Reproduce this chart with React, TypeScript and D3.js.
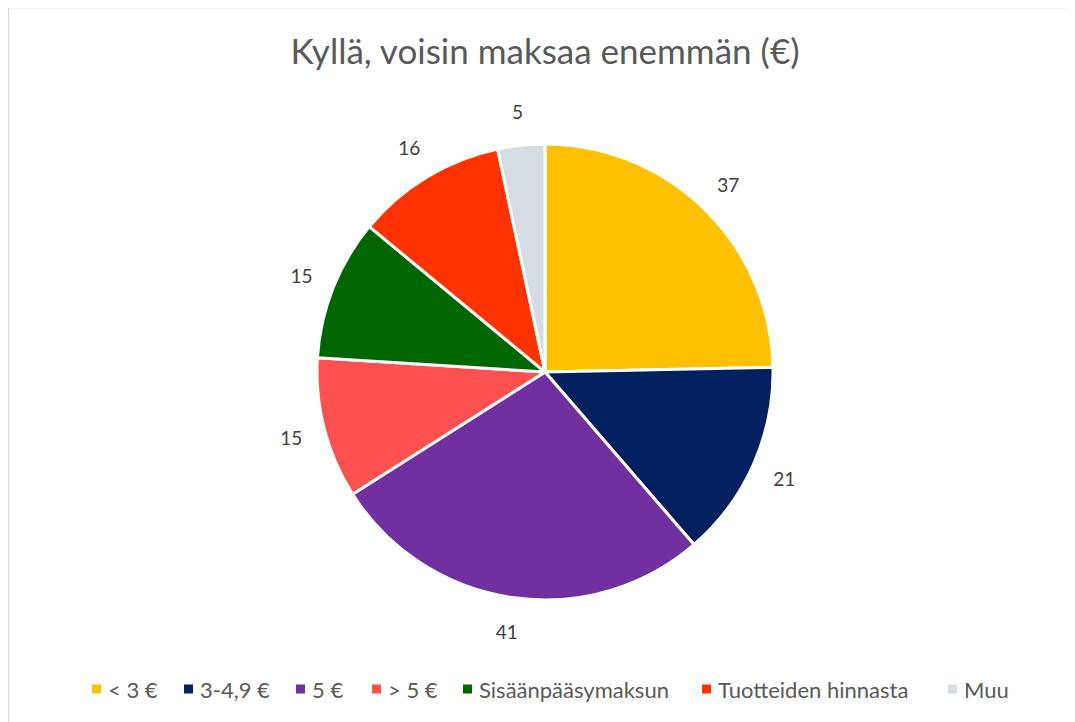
import React, { useEffect, useRef } from "react";
import * as d3 from "d3";

const categories = ["< 3 €", "3-4,9 €", "5 €", "> 5 €", "Sisäänpääsymaksun", "Tuotteiden hinnasta", "Muu"];
const values = [37, 21, 41, 15, 15, 16, 5];
const colors = ["#FFC000", "#002060", "#7030A0", "#FF5050", "#006600", "#FF3300", "#D6DCE4"];
const title = "Kyllä, voisin maksaa enemmän (€)";

const App = () => {
  const ref = useRef<SVGSVGElement | null>(null);

  useEffect(() => {
    const width = 1067;
    const height = 714;
    const cx = 537;
    const cy = 364;
    const radius = 228;
    const font = "Lato, 'Open Sans', sans-serif";
    const textColor = "#595959";

    const svg = d3.select(ref.current);
    svg.selectAll("*").remove();

    // chart frame (only top/left visible in the window)
    svg
      .append("rect")
      .attr("x", 0.5)
      .attr("y", -0.5)
      .attr("width", width + 20)
      .attr("height", height + 20)
      .attr("fill", "#fff")
      .attr("stroke", "#d9d9d9")
      .attr("stroke-width", 1.5);

    svg
      .append("text")
      .attr("x", 537)
      .attr("y", 56)
      .attr("text-anchor", "middle")
      .attr("font-family", font)
      .attr("font-size", 35)
      .attr("fill", textColor)
      .text(title);

    const data = categories.map((c, i) => ({ name: c, value: values[i], color: colors[i] }));

    const pie = d3
      .pie<{ name: string; value: number; color: string }>()
      .value((d) => d.value)
      .sort(null);
    const arcs = pie(data);

    const arc = d3
      .arc<d3.PieArcDatum<{ name: string; value: number; color: string }>>()
      .innerRadius(0)
      .outerRadius(radius);
    const labelArc = d3
      .arc<d3.PieArcDatum<{ name: string; value: number; color: string }>>()
      .innerRadius(262)
      .outerRadius(262);

    const g = svg.append("g").attr("transform", `translate(${cx},${cy})`);

    g.selectAll("path")
      .data(arcs)
      .enter()
      .append("path")
      .attr("d", arc)
      .attr("fill", (d) => d.data.color)
      .attr("stroke", "#fff")
      .attr("stroke-width", 3)
      .attr("stroke-linejoin", "round");

    g.selectAll("text.lbl")
      .data(arcs)
      .enter()
      .append("text")
      .attr("class", "lbl")
      .attr("transform", (d) => `translate(${labelArc.centroid(d)})`)
      .attr("text-anchor", "middle")
      .attr("dominant-baseline", "central")
      .attr("font-family", font)
      .attr("font-size", 19)
      .attr("fill", "#404040")
      .text((d) => d.data.value);

    // legend
    const legendX = [84, 176, 288, 364, 455, 694, 940];
    const legend = svg.append("g").attr("transform", "translate(0,681)");
    data.forEach((d, i) => {
      legend
        .append("rect")
        .attr("x", legendX[i])
        .attr("y", -4.5)
        .attr("width", 9)
        .attr("height", 9)
        .attr("fill", d.color);
      legend
        .append("text")
        .attr("x", legendX[i] + 16)
        .attr("y", 0)
        .attr("dominant-baseline", "central")
        .attr("font-family", font)
        .attr("font-size", 22)
        .attr("fill", textColor)
        .text(d.name);
    });
  }, []);

  return <svg ref={ref} width={1067} height={714} style={{ display: "block" }} />;
};

export default App;
